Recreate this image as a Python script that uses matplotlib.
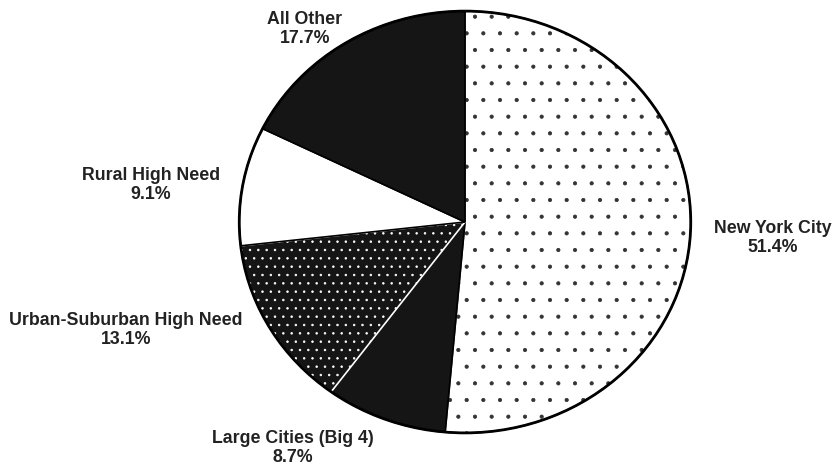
import matplotlib.pyplot as plt
from matplotlib.patches import Ellipse

# share of total by region group
regions = ["New York City", "Large Cities (Big 4)", "Urban-Suburban High Need",
           "Rural High Need", "All Other"]
shares = [51.4, 8.7, 13.1, 9.1, 17.7]

faces = ["white", "#151515", "#151515", "white", "#151515"]
edges = ["#333333", "black", "white", "black", "black"]
hatches = [".", None, "..", None, None]

# label centres in figure pixels (x from left, y from top)
label_px = [(773, 238), (293, 448), (126, 330), (151, 185), (305, 29)]

W, H = 835, 469
fig = plt.figure(figsize=(W / 100, H / 100), dpi=100)
fig.patch.set_facecolor("white")

# pie box: slightly wider than tall
left, right, top, bottom = 237, 693, 9, 435
ax = fig.add_axes([left / W, 1 - bottom / H, (right - left) / W, (bottom - top) / H])

plt.rcParams["hatch.linewidth"] = 0.55
wedges, _ = ax.pie(shares, startangle=90, counterclock=False, radius=1.0,
                   colors=faces,
                   wedgeprops=dict(linewidth=1.2))
for w, ec, h in zip(wedges, edges, hatches):
    w.set_edgecolor(ec)
    if h:
        w.set_hatch(h)

ax.add_patch(Ellipse((0, 0), 2, 2, fill=False, edgecolor="black", linewidth=2.0))
ax.set_aspect("auto")
ax.set_xlim(-1.01, 1.01)
ax.set_ylim(-1.01, 1.01)
ax.axis("off")

for name, pct, (px, py) in zip(regions, shares, label_px):
    fig.text(px / W, 1 - py / H, f"{name}\n{pct:.1f}%", ha="center", va="center",
             fontsize=12.8, fontweight="bold", family="Liberation Sans",
             color="#222222", linespacing=1.1)

fig.savefig("out.png", dpi=100, facecolor="white")
